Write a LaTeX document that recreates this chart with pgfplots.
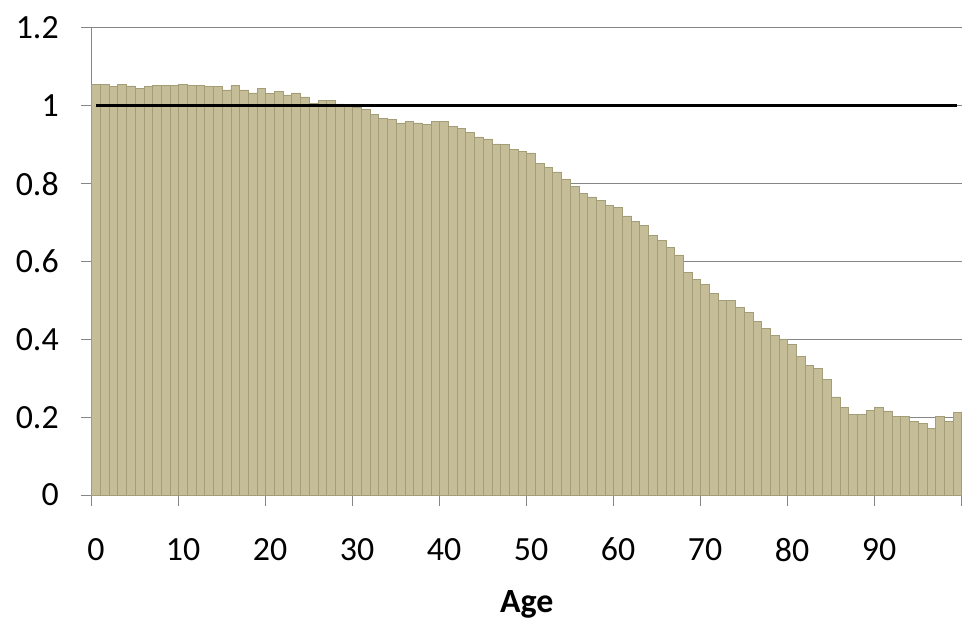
\documentclass[border=0pt]{standalone}
\usepackage{pgfplots}
\pgfplotsset{compat=1.18}
\usepackage{fontspec}
\setmainfont{Carlito}
\usetikzlibrary{calc}
\definecolor{barfill}{HTML}{C4BD97}
\definecolor{baredge}{HTML}{A39D78}
\definecolor{gridgray}{HTML}{868686}
\begin{document}
\begin{tikzpicture}
\begin{axis}[
  name=ax,
  scale only axis,
  width=870bp, height=467bp,
  xmin=-0.5, xmax=99.5,
  ymin=0, ymax=1.2,
  ytick={0,0.2,...,1.2},
  yticklabels={0,0.2,0.4,0.6,0.8,1,1.2},
  xtick={-0.5,9.5,19.5,29.5,39.5,49.5,59.5,69.5,79.5,89.5,99.5},
  xticklabels={0,10,20,30,40,50,60,70,80,90,},
  xticklabel style={xshift=4.35bp, yshift=-29bp},
  yticklabel style={xshift=-19bp},
  tick align=outside,
  major tick length=10.5bp,
  tick style={gridgray, line width=1bp},
  axis x line*=bottom,
  axis y line*=left,
  axis line style={gridgray, line width=1bp, -},
  ymajorgrids,
  major grid style={gridgray, line width=1bp},
  tick label style={font=\fontsize{34}{38}\selectfont},
  xlabel={\textbf{Age}},
  xlabel style={font=\fontsize{34}{38}\selectfont, yshift=-22bp},
  clip=false,
]
\addplot[ybar, bar width=1, bar shift=0pt, fill=barfill, draw=baredge, line width=0.75bp] coordinates {
(0,1.055) (1,1.055) (2,1.049) (3,1.055) (4,1.051) (5,1.044) (6,1.049) (7,1.052) (8,1.052) (9,1.052)
(10,1.055) (11,1.052) (12,1.052) (13,1.049) (14,1.049) (15,1.041) (16,1.052) (17,1.041) (18,1.033) (19,1.044)
(20,1.031) (21,1.036) (22,1.028) (23,1.033) (24,1.023) (25,1.006) (26,1.013) (27,1.013) (28,1.005) (29,0.999)
(30,0.995) (31,0.990) (32,0.978) (33,0.968) (34,0.966) (35,0.956) (36,0.959) (37,0.956) (38,0.953) (39,0.959)
(40,0.961) (41,0.946) (42,0.941) (43,0.931) (44,0.920) (45,0.915) (46,0.902) (47,0.900) (48,0.887) (49,0.882)
(50,0.879) (51,0.853) (52,0.841) (53,0.830) (54,0.812) (55,0.794) (56,0.776) (57,0.766) (58,0.756) (59,0.745)
(60,0.738) (61,0.717) (62,0.704) (63,0.692) (64,0.668) (65,0.655) (66,0.637) (67,0.617) (68,0.573) (69,0.553)
(70,0.542) (71,0.519) (72,0.501) (73,0.501) (74,0.483) (75,0.470) (76,0.447) (77,0.427) (78,0.409) (79,0.401)
(80,0.386) (81,0.357) (82,0.334) (83,0.326) (84,0.296) (85,0.252) (86,0.226) (87,0.206) (88,0.206) (89,0.218)
(90,0.224) (91,0.216) (92,0.201) (93,0.201) (94,0.188) (95,0.185) (96,0.170) (97,0.201) (98,0.190) (99,0.213)
};
\addplot[black, line width=3bp, mark=none] coordinates {(0,1) (99,1)};
\end{axis}
\pgfresetboundingbox
\path ($(ax.south west)+(-91.7bp,-144bp)$) rectangle ($(ax.north east)+(15.3bp,28bp)$);
\end{tikzpicture}
\end{document}
